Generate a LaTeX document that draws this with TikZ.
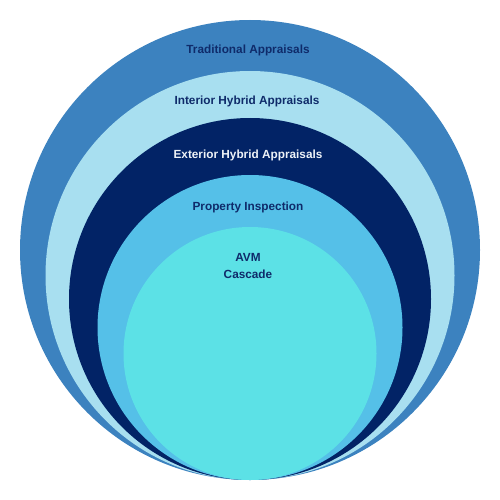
\documentclass[tikz,border=0pt]{standalone}
\usepackage{fontspec}
\setmainfont{Liberation Sans}
\definecolor{cOuter}{HTML}{3C82BF}
\definecolor{cInt}{HTML}{A8DFF0}
\definecolor{cExt}{HTML}{022366}
\definecolor{cProp}{HTML}{55C0E8}
\definecolor{cAVM}{HTML}{5CE1E6}
\definecolor{cText}{HTML}{0F2B6A}
\definecolor{cWhite}{HTML}{EEF2F7}
\begin{document}
\begin{tikzpicture}[x=1pt,y=-1pt,
  lbl/.style={font=\bfseries\fontsize{11.8}{14}\selectfont, text=cText, inner sep=0pt, anchor=base}]
\useasboundingbox (0,0) rectangle (500,500);
\fill[cOuter] (250,250) circle (230);
\fill[cInt] (250,275.5) circle (204.5);
\fill[cExt] (250,299) circle (181);
\fill[cProp] (250,327.5) circle (152.5);
\fill[cAVM] (250,353.5) circle (126.5);
\node[lbl] (t1) at (248,54) {Traditional Appraisals};
\node[lbl] (t2) at (247,104.5) {Interior Hybrid Appraisals};
\node[lbl, text=cWhite] (t3) at (248,158.5) {Exterior Hybrid Appraisals};
\node[lbl] (t4) at (248,210.5) {Property Inspection};
\node[lbl] (t5) at (248,261) {AVM};
\node[lbl] (t6) at (248,278.3) {Cascade};
\end{tikzpicture}
\end{document}
